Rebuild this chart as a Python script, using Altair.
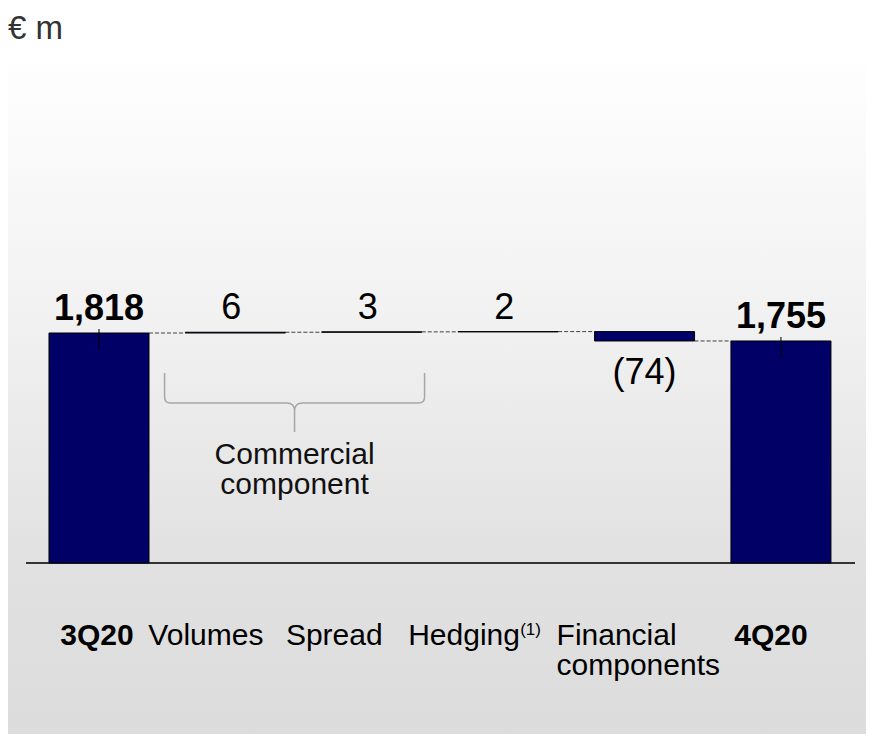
import altair as alt
import pandas as pd

# ---------------- data ----------------
categories = ["3Q20", "Volumes", "Spread", "Hedging", "Financial components", "4Q20"]
axis_labels = ["3Q20", "Volumes", "Spread", "Hedging", "Financial\ncomponents", "4Q20"]
values = [1818, 6, 3, 2, -74, 1755]
kinds = ["total", "delta", "delta", "delta", "delta", "total"]
footnotes = ["", "", "", "(1)", "", ""]
unit_label = "€ m"
group_label = "Commercial\ncomponent"
group_members = ["Volumes", "Spread"]

# ---------------- styles ----------------
FONT = "Liberation Sans"
NAVY = "#000066"
BAR_PX = 100
W, H = 858, 726
label_style = {
    "3Q20": dict(align="center", dx=-2, bold=True),
    "Volumes": dict(align="center", dx=-29.5, bold=False),
    "Spread": dict(align="center", dx=-37.5, bold=False),
    "Hedging": dict(align="left", dx=-100, bold=False),
    "Financial components": dict(align="left", dx=-88, bold=False),
    "4Q20": dict(align="center", dx=-10, bold=True),
}

# ---------------- waterfall table ----------------
rows = []
running = 0
for i, (c, v, k) in enumerate(zip(categories, values, kinds)):
    if k == "total":
        start, end = 0, v
    else:
        start, end = running, running + v
    running = end
    label = f"{v:,}" if v >= 0 else f"({abs(v):,})"
    rows.append(dict(idx=i, cat=c, start=start, end=end, top=max(start, end),
                     bottom=min(start, end), label=label, kind=k, neg=bool(v < 0),
                     axis=axis_labels[i], foot=footnotes[i]))
df = pd.DataFrame(rows)

conn = pd.DataFrame([dict(idx=r["idx"], idx_next=r["idx"] + 1, level=r["end"])
                     for r in rows[:-1]])

# scale domains chosen so that category i sits at 87 + 138*i px, and 0 at 555 px
step = 138.0
x0 = -87.0 / step
xs = alt.Scale(domain=[x0, x0 + W / step], nice=False, zero=False)
k_px = 230.0 / 1818.0
y_top = 555.0 / k_px
ys = alt.Scale(domain=[y_top - H / k_px, y_top], nice=False, zero=False)


def X(f="idx"):
    return alt.X(f"{f}:Q", scale=xs, axis=None)


def Y(f):
    return alt.Y(f"{f}:Q", scale=ys, axis=None)


one = pd.DataFrame([{"a": 1}])

bg = alt.Chart(one).mark_rect(
    fill={"gradient": "linear", "x1": 0, "y1": 0, "x2": 0, "y2": 1,
          "stops": [{"offset": 0, "color": "#ffffff"},
                    {"offset": 0.4, "color": "#f1f1f1"},
                    {"offset": 0.75, "color": "#e1e1e1"},
                    {"offset": 1, "color": "#dcdcdc"}]}
).encode(x=alt.value(0), x2=alt.value(W), y=alt.value(40), y2=alt.value(H))

baseline = alt.Chart(one).mark_rule(color="#333333", strokeWidth=2).encode(
    x=alt.value(18), x2=alt.value(847), y=alt.value(555)
)

connectors = alt.Chart(conn).mark_rule(
    color="#404040", strokeWidth=1, strokeDash=[4, 2],
    xOffset=BAR_PX / 2, x2Offset=-BAR_PX / 2
).encode(x=X("idx"), x2="idx_next:Q", y=Y("level"))

bars = alt.Chart(df).mark_bar(size=BAR_PX, fill=NAVY, stroke="#000000", strokeWidth=1).encode(
    x=X(), y=Y("start"), y2="end:Q"
)

ticks = alt.Chart(df[df.kind == "total"]).mark_rule(
    color="#000000", strokeWidth=1, yOffset=-4, y2Offset=17
).encode(x=X(), y=Y("end"), y2="end:Q")

pos = df[~df.neg]
val_total = alt.Chart(pos[pos.kind == "total"]).mark_text(
    font=FONT, fontSize=36, fontWeight="bold", baseline="alphabetic", dy=-13, color="#000000"
).encode(x=X(), y=Y("top"), text="label:N")
val_delta = alt.Chart(pos[pos.kind == "delta"]).mark_text(
    font=FONT, fontSize=36, baseline="alphabetic", dy=-13, dx=-4, color="#000000"
).encode(x=X(), y=Y("top"), text="label:N")
val_neg = alt.Chart(df[df.neg]).mark_text(
    font=FONT, fontSize=36, baseline="alphabetic", dy=43, color="#000000"
).encode(x=X(), y=Y("bottom"), text="label:N")

cat_layers = []
for r in rows:
    st = label_style[r["cat"]]
    sub = df[df.cat == r["cat"]]
    cat_layers.append(
        alt.Chart(sub).mark_text(
            font=FONT, fontSize=30, fontWeight="bold" if st["bold"] else "normal",
            align=st["align"], baseline="alphabetic", dx=st["dx"], lineHeight=30,
            lineBreak="\n", color="#000000"
        ).encode(x=X(), y=alt.value(637), text="axis:N")
    )
    if r["foot"]:
        cat_layers.append(
            alt.Chart(sub).mark_text(
                font=FONT, fontSize=17, align="left", baseline="alphabetic",
                dx=12, color="#000000"
            ).encode(x=X(), y=alt.value(627), text="foot:N")
        )

gidx = [categories.index(m) for m in group_members]
gdf = pd.DataFrame([dict(idx=sum(gidx) / len(gidx), txt=group_label)])
brace_path = ("M -1 -0.2308 L -1 -0.0462 Q -1 0 -0.9538 0 L -0.0615 0 Q 0 0 0 0.0615 "
              "L 0 0.2231 M 0 0.0615 Q 0 0 0.0615 0 L 0.9538 0 Q 1 0 1 -0.0462 L 1 -0.2308")
brace = alt.Chart(gdf).mark_point(
    shape=brace_path, size=260 ** 2, filled=False, stroke="#a6a6a6", strokeWidth=1.5,
    opacity=1, xOffset=-9
).encode(x=X(), y=alt.value(395))
group_text = alt.Chart(gdf).mark_text(
    font=FONT, fontSize=30, align="center", baseline="alphabetic", lineHeight=30,
    lineBreak="\n", dx=-9, color="#111111"
).encode(x=X(), y=alt.value(456), text="txt:N")

title = alt.Chart(one).mark_text(
    text=unit_label, font=FONT, fontSize=33, align="left", baseline="alphabetic",
    color="#333333"
).encode(x=alt.value(0), y=alt.value(31))

chart = alt.layer(
    bg, baseline, connectors, bars, ticks, val_total, val_delta, val_neg,
    *cat_layers, brace, group_text, title
).properties(
    width=W, height=H,
    autosize=alt.AutoSizeParams(type="none"), padding=0
).configure_view(stroke=None)

chart.save("out.html", embed_options={"renderer": "svg", "actions": False})
